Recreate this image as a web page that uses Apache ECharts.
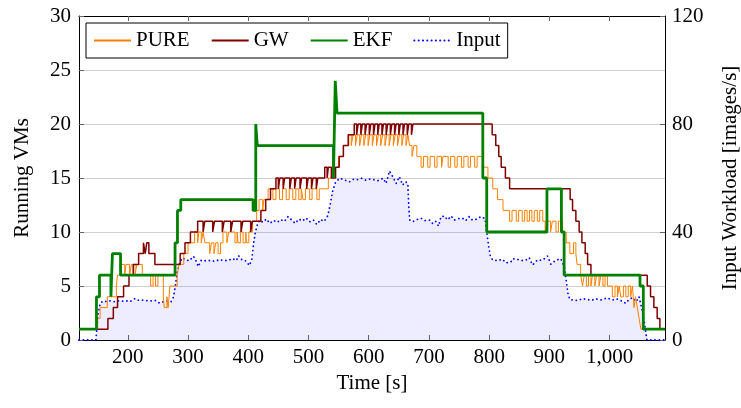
<!DOCTYPE html>
<html><head><meta charset="utf-8">
<script src="https://cdn.jsdelivr.net/npm/echarts@6/dist/echarts.min.js"></script>
<style>html,body{margin:0;padding:0;background:#fff}#c{width:741px;height:408px}</style>
</head><body><div id="c"></div>
<script>
// ---- data (time [s], value) ----
const xTicks = [200, 300, 400, 500, 600, 700, 800, 900, 1000];
const legendNames = ['PURE', 'GW', 'EKF', 'Input'];

// PURE running VMs (step changes)
const pure = [
[119,1],[150,2],[154,3],[166,4],[181,5],[183,6],[188,7],[195,6],[197,7],[203,6],[206,7],[212,6],[215,7],[224,6],
[238,5],[242,6],[246,5],[250,6],[259,4],[260.5,3],[265,4],[267,3],[270,5],[282,6],[285,7],[293,8],[300,9],[311,10],
[316,9],[318,10],[322,9],[325,10],[328,9],[336,8],[339,9],[343,8],[346,9],[350,8],[354,9],[358,10],[364.5,9],[367.5,10],
[378,9],[381.5,10],[383,9],[387,10],[391.5,9],[396,10],[397,9],[401,10],[407,11],[414,12],[418,13],[424,12],[426,13],[433,14],
[441,13],[446,14],[452,13],[457,14],[463,13],[468,14],[474,13],[479,14],[484,13],[488,14],[491,13],[495,14],[502,13],[506,14],
[514,13],[518,14],[533,15],[541,16],[550,17],[558,18],[567,19],
[571,18],[574,19],[578,18],[581,19],[585,18],[588,19],[592,18],[595,19],[599,18],[602,19],[606,18],[609,19],[613,18],[616,19],
[620,18],[623,19],[627,18],[630,19],[634,18],[637,19],[641,18],[644,19],[648,18],[651,19],[655,18],[658,19],[662,18],[665,19],
[668,18],[672,17],[675,18],[680,17],
[687,16],[691,17],[698,16],[702,17],[709.5,16],[713.5,17],[721,16],[723.5,17],[732,16],[736,17],[743,16],[747,17],[754,16],[758,17],
[765,16],[769,17],[776,16],[780,17],
[789,16],[798,15],[806,14],[814,13],[823,12],
[834,11],[838,12],[845,11],[849,12],[855,11],[859,12],[863,11],[867,12],[871,11],[875,12],[880,11],[884,12],[889,11],
[893,10],[896,11],[902,10],[905,11],[911,10],[915,11],
[922,10],[928,9],[934,8],[940,9],[944,8],[946,7],[952,6],
[955,5],[958,6],[961.5,5],[965,6],[969,5],[971.5,6],[975.5,5],[978.5,6],[982.5,5],[985.5,6],[989,5],[992.5,6],
[996.5,5],[1004.5,4],[1009,5],[1013,4],[1016,5],[1018.5,4],[1023,5],[1027,4],[1031,5],[1035,4],[1038,5],[1040.5,3],[1043,4],
[1046,3],[1049,2],[1052,1],[1092,1]
];

// GW running VMs
const gw = [
[119,1],[167,2],[176,3],[183,4],[193,5],[202,6],[209,7],[218,8],[226,9],[229,8],[231.5,9],[235,8],[245,7],
[287,8],[295,9],[304,10],[316,11],
[325,10],[328,11],[341,10],[344,11],[357,10],[360,11],[371,10],[374,11],[388,10],[391,11],[404,10],[407,11],
[421,12],[429,13],[437,14],[446,15],
[450,14],[452.5,15],[458,14],[460.5,15],[469,14],[471.5,15],[477,14],[479.5,15],[486,14],[488.5,15],[497,14],[499.5,15],
[505,14],[507.5,15],[513,14],[515.5,15],
[527,16],[531,15],[533,16],[538,15],[545,16],[551,17],[558,18],[566,19],[576,20],
[580,19],[582.5,20],[587,19],[589.5,20],[594,19],[596.5,20],[601,19],[603.5,20],[608,19],[610.5,20],[615,19],[617.5,20],
[622,19],[624.5,20],[629,19],[631.5,20],[636,19],[638.5,20],[643,19],[645.5,20],[650,19],[652.5,20],[657,19],[659.5,20],
[664,19],[666.5,20],[671,19],[673.5,20],
[805,19],[811,18],[816,17],[820,16],[827,15],[834,14],
[934.5,13],[938.5,12],[944,11],[949.5,10],[954,9],[959.5,8],[963.5,7],[969,6],
[1062.5,5],[1068,4],[1073.5,3],[1079,2],[1083.5,1],[1092,1]
];

// EKF running VMs
const ekf = [
[119,1],[148,4],[153,6],[172,4],[174.5,8],[188,6],[278.5,9],[282.5,12],[288,13],[408,12],[412.5,20],[415,18],
[541.5,15],[544.5,24],[547.5,21],[789.5,15],[796,10],[896,14],[920,10],[924.5,6],[1050.5,5],[1056,1],[1092,1]
];

// Input workload [images/s]
const inputLoad = [
[119,0],[147,0],[149,5],[151,10],[154,13.5],[158,14.3],[162,14.2],[168,14.6],[174,14.3],[180,14.2],[186,14.6],[192,14.4],
[198,14.5],[204,14.2],[212,15.4],[218,14.7],[224,14.8],[232,14.6],[238,14.5],[245,14.7],[253,13.6],[260,14.3],[266,14.4],
[272,14.2],[276,16],[279,20],[282,25],[286,28.5],[290,30.4],
[296,29.8],[302,29.3],[309,31],[313,29.5],[317,27.2],[322,29.6],[330,29.3],[338,29.5],[345,29.1],[352,29.8],[360,29.4],
[367,29.5],[374,30.2],[380,29.4],[384,31.2],[390,29.6],[396,29.3],[402,27.6],[406,30],[409,36],[412,40],[416,43.5],
[420,44.4],[424,43.6],[430,44.8],[436,43.2],[442,44.3],[448,43.6],[454,44.6],[460,43.9],[466,45.7],[472,44.5],[478,43.2],
[484,44.8],[490,44.1],[496,45.2],[502,43.8],[508,44.5],[514,42.8],[520,44.6],[526,43.9],[532,46],[536,50],[540,55],[545,58.5],
[552,59.9],[560,59.3],[568,58.6],[574,59.5],[580,59.3],[588,59.9],[595,59.2],[602,59.6],[608,59.4],[615,59],[624,59.9],
[629,58],[634.5,62.6],[640,60.5],[645.5,58],[651,60.5],[656.5,57.4],[661,58.6],[665,58],[666.5,50],[668,44.5],
[673,43.8],[680,44.6],[687,45.1],[694,44.2],[701,44.4],[706,43.2],[711,44],[716,42.2],[720,45.7],[726,45.9],[731,44.5],
[737,45.9],[742,44.4],[749,44.9],[756,45.1],[761,44.2],[767,45.7],[771,44.6],[775.5,44.4],[781,45],[786.5,45.7],[789,46.3],
[793,45],[796,40],[799,35],[802,31],[806,29.6],
[814,29.4],[822,29.9],[828,28.6],[836,28.9],[839,30.1],[847,29.9],[853,29.4],[861,29.6],[866.5,30.5],[872,27.8],[880,29.6],
[888.5,29.6],[897,31.1],[902.5,28.1],[911,29.6],[919,30.1],[922,29.6],[925,27],[928,22],[931,17],[934,15],
[936,14.8],[947,14.6],[955,15.3],[963,15],[970,14.7],[977,15.3],[985,14.8],[996,15.6],[1004.5,14.8],[1011,15.3],
[1018.5,14.6],[1027,13.6],[1032,15],[1038,15.7],[1044,14.2],[1049,16],[1052,13],[1055,10],[1058,6],[1060,3],[1062,0],[1092,0]
];

// ---- chart ----
const FONT = 'Liberation Serif';
const txt = {fontFamily: FONT, fontSize: 21, color: '#000'};
const tickStyle = {color: '#666', width: 1};
const axisLineStyle = {color: '#000', width: 1};

const chart = echarts.init(document.getElementById('c'), null, {renderer: 'canvas'});
chart.setOption({
  animation: false,
  backgroundColor: '#fff',
  textStyle: {fontFamily: FONT},
  grid: {left: 79, right: 76, top: 16, bottom: 68, containLabel: false, outerBoundsMode: 'none'},
  legend: {
    data: legendNames,
    left: 86, top: 23,
    padding: [7, 7, 7, 7],
    itemGap: 21, itemWidth: 37, itemHeight: 14,
    borderColor: '#000', borderWidth: 1, borderRadius: 0,
    backgroundColor: '#fff',
    itemStyle: {opacity: 0, borderWidth: 0},
    textStyle: Object.assign({}, txt, {padding: [2, 0, 0, 0]}),
    z: 10
  },
  xAxis: [{
    type: 'value', min: 119, max: 1092, position: 'bottom',
    name: 'Time [s]', nameLocation: 'middle', nameGap: 33, nameTextStyle: txt,
    axisLine: {show: true, onZero: false, lineStyle: axisLineStyle},
    axisTick: {show: true, customValues: xTicks, inside: true, length: 5, lineStyle: tickStyle},
    axisLabel: {customValues: xTicks, margin: 7, formatter: v => v >= 1000 ? (Math.floor(v/1000) + ',' + String(v % 1000).padStart(3, '0')) : String(v), fontFamily: FONT, fontSize: 21, color: '#000'},
    splitLine: {show: false}
  }, {
    type: 'value', min: 119, max: 1092, position: 'top',
    axisLine: {show: true, onZero: false, lineStyle: axisLineStyle},
    axisTick: {show: true, customValues: xTicks, inside: true, length: 5, lineStyle: tickStyle},
    axisLabel: {show: false},
    splitLine: {show: false}
  }],
  yAxis: [{
    type: 'value', min: 0, max: 30, interval: 5, position: 'left',
    name: 'Running VMs', nameLocation: 'middle', nameGap: 46, nameTextStyle: txt,
    axisLine: {show: true, onZero: false, lineStyle: axisLineStyle},
    axisTick: {show: true, inside: true, length: 5, lineStyle: tickStyle},
    axisLabel: {margin: 8, fontFamily: FONT, fontSize: 21, color: '#000'},
    splitLine: {show: true, lineStyle: {color: '#d0d0d0', width: 1}}
  }, {
    type: 'value', min: 0, max: 120, interval: 40, position: 'right',
    name: 'Input Workload [images/s]', nameLocation: 'middle', nameGap: 55, nameTextStyle: txt,
    axisLine: {show: true, onZero: false, lineStyle: axisLineStyle},
    axisTick: {show: true, inside: true, length: 5, lineStyle: tickStyle},
    axisLabel: {margin: 7, fontFamily: FONT, fontSize: 21, color: '#000'},
    splitLine: {show: false}
  }],
  series: [{
    name: 'Input', type: 'line', xAxisIndex: 0, yAxisIndex: 1, data: inputLoad,
    symbol: 'none', showSymbol: false,
    lineStyle: {color: '#0000ff', width: 1.8, type: [0.1, 4.2], cap: 'round'},
    itemStyle: {color: '#0000ff'},
    areaStyle: {color: 'rgba(0,0,255,0.1)', origin: 'start'},
    z: 2
  }, {
    name: 'PURE', type: 'line', step: 'end', xAxisIndex: 0, yAxisIndex: 0, data: pure,
    symbol: 'none', showSymbol: false,
    lineStyle: {color: '#ff8000', width: 1},
    itemStyle: {color: '#ff8000'},
    z: 3
  }, {
    name: 'GW', type: 'line', step: 'end', xAxisIndex: 0, yAxisIndex: 0, data: gw,
    symbol: 'none', showSymbol: false,
    lineStyle: {color: '#800000', width: 1.5},
    itemStyle: {color: '#800000'},
    z: 4
  }, {
    name: 'EKF', type: 'line', step: 'end', xAxisIndex: 0, yAxisIndex: 0, data: ekf,
    symbol: 'none', showSymbol: false,
    lineStyle: {color: '#008000', width: 2.8},
    itemStyle: {color: '#008000'},
    z: 5
  }]
});
</script>
</body></html>
